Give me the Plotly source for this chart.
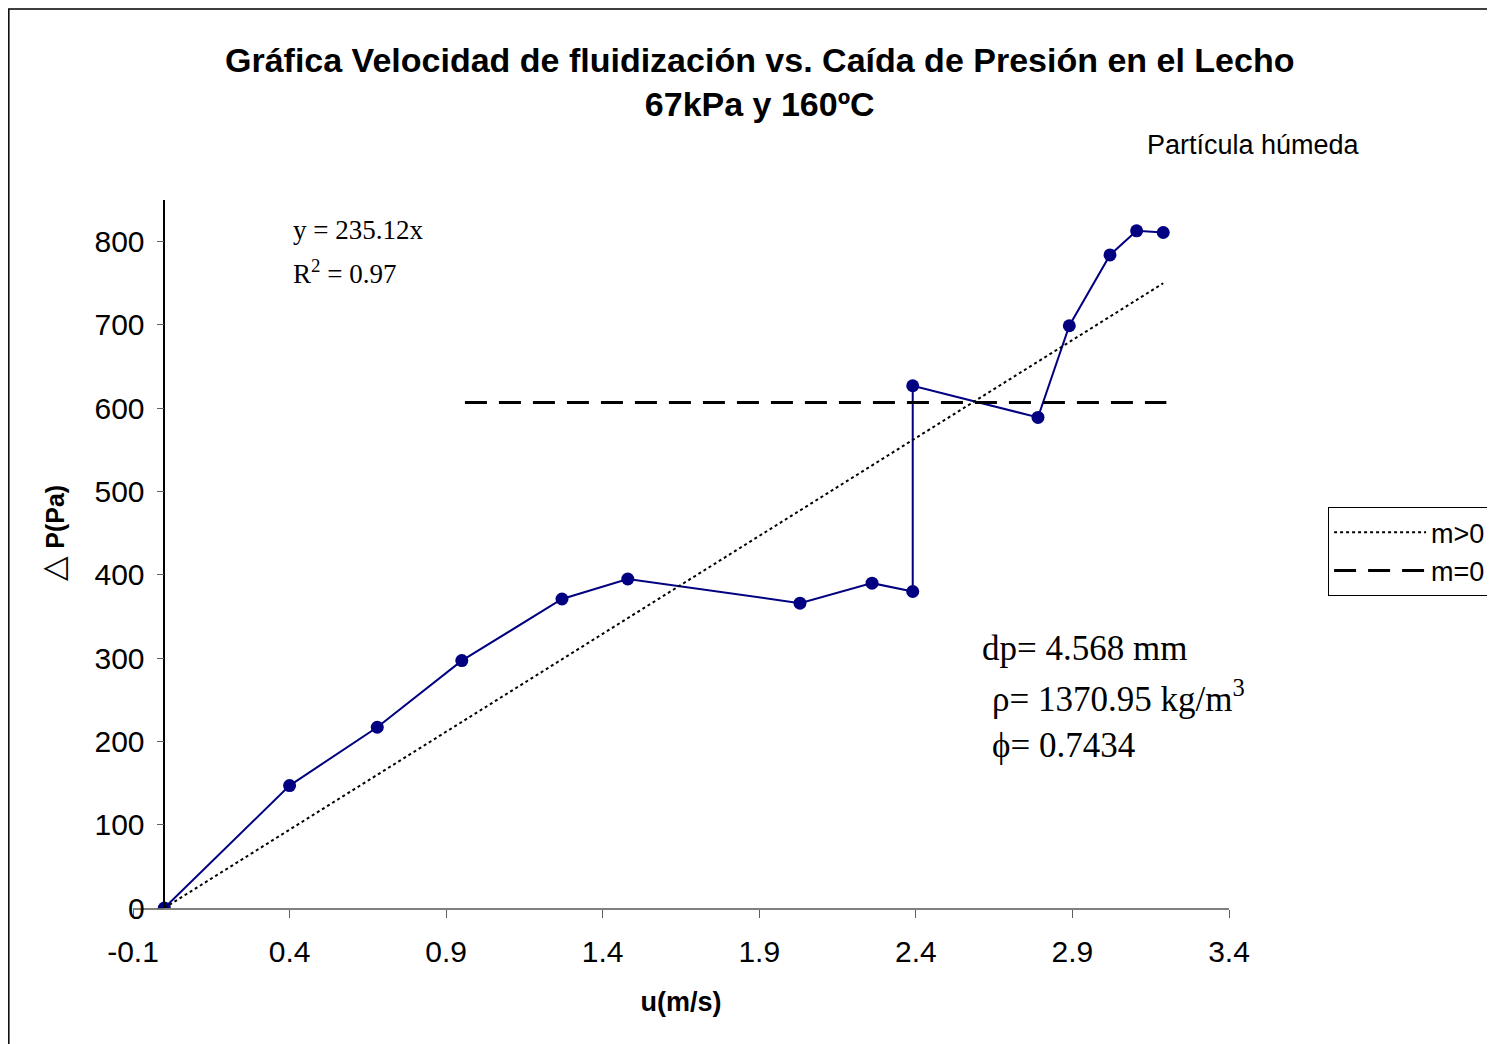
import plotly.graph_objects as go

# measured data: fluidization velocity vs. bed pressure drop
u_ms = [0.0, 0.40, 0.68, 0.95, 1.27, 1.48, 2.03, 2.26, 2.39, 2.39, 2.79, 2.89, 3.02, 3.105, 3.19]
dp_pa = [0, 147, 217, 297, 371, 395, 366, 390, 380, 627, 589, 699, 784, 813, 811]

# trend line m>0  (y = 235.12x)
slope = 235.12
trend_x = [0.0, 3.19]
trend_y = [slope * v for v in trend_x]

# constant line m=0
flat_x = [0.96, 3.20]
flat_y = [607, 607]

x_ticks = [-0.1, 0.4, 0.9, 1.4, 1.9, 2.4, 2.9, 3.4]
x_tick_labels = ["-0.1", "0.4", "0.9", "1.4", "1.9", "2.4", "2.9", "3.4"]

x_range = [-0.1, 3.4]
y_range = [0, 850]

fig = go.Figure()

fig.add_trace(go.Scatter(
    x=u_ms, y=dp_pa, mode="lines+markers",
    line=dict(color="#000080", width=2),
    marker=dict(color="#000080", size=13),
    showlegend=False,
))
fig.add_trace(go.Scatter(
    x=trend_x, y=trend_y, mode="lines", name="m>0",
    line=dict(color="black", width=2, dash="dot"),
))
fig.add_trace(go.Scatter(
    x=flat_x, y=flat_y, mode="lines", name="m=0",
    line=dict(color="black", width=3, dash="22px,12px"),
))

# y axis crosses at u = 0 (Excel style)
ypos = (0 - x_range[0]) / (x_range[1] - x_range[0])

# the page body adds an 8px offset, so margins are trimmed by it
fig.update_layout(
    width=1495, height=1044,
    margin=dict(l=125, r=274, t=192, b=144, autoexpand=False),
    paper_bgcolor="white", plot_bgcolor="white",
    font=dict(family="Liberation Sans, Arial", color="black", size=26),
    xaxis=dict(
        range=x_range, tickvals=x_ticks, ticktext=x_tick_labels,
        showgrid=False, zeroline=False,
        showline=True, linecolor="#808080", linewidth=1.5,
        ticks="outside", ticklen=8, tickcolor="#606060",
        tickfont=dict(size=30), ticklabelstandoff=8,
        title=dict(text="<b>u(m/s)</b>", font=dict(size=27), standoff=25),
    ),
    yaxis=dict(
        range=y_range, dtick=100,
        anchor="free", position=ypos,
        showgrid=False, zeroline=False,
        showline=True, linecolor="black", linewidth=1.5,
        ticks="outside", ticklen=7, tickcolor="#606060",
        tickfont=dict(size=30), ticklabelstandoff=6,
    ),
    legend=dict(
        x=1.0904, y=0.566, xanchor="left", yanchor="top",
        bordercolor="black", borderwidth=1, bgcolor="white",
        font=dict(size=27), itemwidth=92, tracegroupgap=8,
    ),
    showlegend=True,
)

# outer chart frame (right and bottom edges fall outside the page)
fig.add_shape(type="rect", xref="paper", yref="paper",
              x0=-0.1133, x1=1.5, y0=-0.3, y1=1.2698,
              line=dict(color="black", width=1.5), layer="below")

fig.add_annotation(
    text="<b>Gráfica Velocidad de fluidización vs. Caída de Presión en el Lecho</b><br><b>67kPa y 160ºC</b>",
    xref="paper", yref="paper", x=0.572, y=1.167, xanchor="center", yanchor="middle",
    showarrow=False, font=dict(size=34), align="center",
)
fig.add_annotation(text="Partícula húmeda", xref="paper", yref="paper",
                   x=1.121, y=1.078, xanchor="right", yanchor="middle",
                   showarrow=False, font=dict(size=27))

serif = "Liberation Serif, Times New Roman"
fig.add_annotation(text="y = 235.12x", xref="paper", yref="paper",
                   x=0.144, y=0.958, xanchor="left", yanchor="middle",
                   showarrow=False, font=dict(family=serif, size=27))
fig.add_annotation(text="R<sup>2</sup> = 0.97", xref="paper", yref="paper",
                   x=0.144, y=0.899, xanchor="left", yanchor="middle",
                   showarrow=False, font=dict(family=serif, size=27))

fig.add_annotation(text="dp= 4.568 mm", xref="paper", yref="paper",
                   x=0.773, y=0.367, xanchor="left", yanchor="middle",
                   showarrow=False, font=dict(family=serif, size=35))
fig.add_annotation(text="ρ= 1370.95 kg/m<sup>3</sup>", xref="paper", yref="paper",
                   x=0.782, y=0.299, xanchor="left", yanchor="middle",
                   showarrow=False, font=dict(family=serif, size=35))
fig.add_annotation(text="ϕ= 0.7434", xref="paper", yref="paper",
                   x=0.782, y=0.229, xanchor="left", yanchor="middle",
                   showarrow=False, font=dict(family=serif, size=35))

fig.add_annotation(text="<span style='font-size:32px'>△</span> <b>P(Pa)</b>",
                   xref="paper", yref="paper",
                   x=-0.073, y=0.53, textangle=-90, xanchor="center", yanchor="middle",
                   showarrow=False, font=dict(size=25))

fig.write_html("out.html")
